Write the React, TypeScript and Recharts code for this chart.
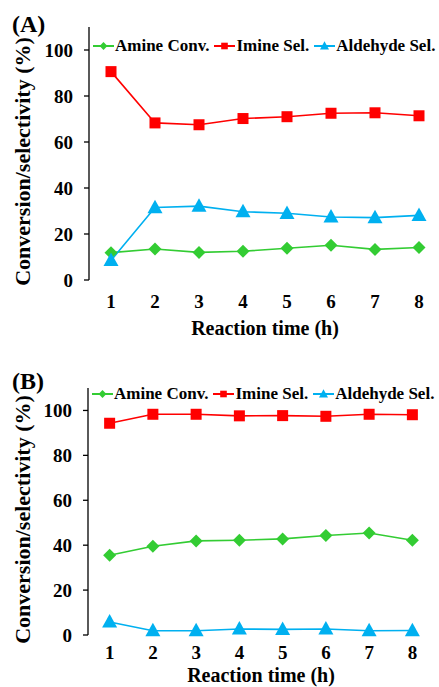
import React from "react";
import { LineChart, Line, XAxis, YAxis, Legend } from "recharts";

const FONT = '"Liberation Serif", "Times New Roman", serif';

const hours = [1, 2, 3, 4, 5, 6, 7, 8];
const yTicks = [0, 20, 40, 60, 80, 100];
const bandTicks = [0.5, 1.5, 2.5, 3.5, 4.5, 5.5, 6.5, 7.5, 8.5];

// panel (A)
const amineA = [11.9, 13.5, 12.0, 12.5, 13.8, 15.1, 13.3, 14.1];
const imineA = [90.6, 68.3, 67.5, 70.2, 71.0, 72.5, 72.7, 71.4];
const aldehydeA = [8.5, 31.5, 32.1, 29.7, 29.0, 27.4, 27.1, 28.1];

// panel (B)
const amineB = [35.5, 39.5, 41.9, 42.2, 42.8, 44.3, 45.4, 42.2];
const imineB = [94.3, 98.3, 98.3, 97.6, 97.7, 97.4, 98.3, 98.1];
const aldehydeB = [5.8, 1.9, 1.9, 2.7, 2.5, 2.7, 1.9, 2.0];

const COLORS = {
  amine: "#33CC33",
  imine: "#FF0000",
  aldehyde: "#00B0F0",
};

const LEGEND = [
  { key: "amine", label: "Amine Conv.", shape: "diamond" },
  { key: "imine", label: "Imine Sel.", shape: "square" },
  { key: "aldehyde", label: "Aldehyde Sel.", shape: "triangle" },
];

function Marker({ cx, cy, shape, fill, scale = 1 }: any) {
  if (cx == null || cy == null) return null;
  if (shape === "square") {
    const s = 5.5 * scale;
    return <rect x={cx - s} y={cy - s} width={s * 2} height={s * 2} fill={fill} />;
  }
  if (shape === "diamond") {
    const s = 6.5 * scale;
    return (
      <polygon
        points={`${cx},${cy - s} ${cx + s},${cy} ${cx},${cy + s} ${cx - s},${cy}`}
        fill={fill}
      />
    );
  }
  const w = 7.5 * scale;
  return (
    <polygon
      points={`${cx},${cy - w * 1.05} ${cx + w},${cy + w * 0.75} ${cx - w},${cy + w * 0.75}`}
      fill={fill}
    />
  );
}

function LegendBox() {
  return (
    <div
      style={{
        display: "flex",
        alignItems: "center",
        fontFamily: FONT,
        fontWeight: "bold",
        fontSize: 17,
        color: "#000",
        whiteSpace: "nowrap",
      }}
    >
      {LEGEND.map((l) => (
        <div key={l.key} style={{ display: "flex", alignItems: "center", marginRight: 5 }}>
          <svg width={21} height={14}>
            <line x1={0} y1={7} x2={21} y2={7} stroke={(COLORS as any)[l.key]} strokeWidth={2} />
            <Marker cx={10.5} cy={7} shape={l.shape} fill={(COLORS as any)[l.key]} scale={0.6} />
          </svg>
          <span style={{ marginLeft: 1 }}>{l.label}</span>
        </div>
      ))}
    </div>
  );
}

function YLabel({ viewBox }: any) {
  const x = viewBox.x + 30;
  const y = viewBox.y + viewBox.height / 2 + 8;
  return (
    <text
      x={x}
      y={y}
      transform={`rotate(-90, ${x}, ${y})`}
      textAnchor="middle"
      fontFamily={FONT}
      fontWeight="bold"
      fontSize={22}
      fill="#000"
    >
      Conversion/selectivity (%)
    </text>
  );
}

interface PanelProps {
  amine: number[];
  imine: number[];
  aldehyde: number[];
  top: number;
  width: number;
  height: number;
  marginTop: number;
  yWidth: number;
  xHeight: number;
  labelOffset: number;
  tickGap: number;
  xStroke: string;
  legendTop: number;
  legendLeft: number;
}

function Panel(p: PanelProps) {
  const data = hours.map((h, i) => ({
    x: h,
    amine: p.amine[i],
    imine: p.imine[i],
    aldehyde: p.aldehyde[i],
  }));
  const tickStyle = { fontFamily: FONT, fontWeight: "bold", fontSize: 19, fill: "#000" };

  return (
    <div style={{ position: "absolute", left: 0, top: p.top }}>
      <LineChart
        width={p.width}
        height={p.height}
        data={data}
        margin={{ top: p.marginTop, right: 2, left: 0, bottom: 0 }}
      >
        {/* tick marks sit between the hours, labels under them */}
        <XAxis
          dataKey="x"
          type="number"
          domain={[0.5, 8.5]}
          ticks={bandTicks}
          tickFormatter={() => ""}
          height={0}
          tickSize={5}
          stroke={p.xStroke}
          strokeWidth={1.3}
          allowDataOverflow
        />
        <XAxis
          xAxisId="labels"
          dataKey="x"
          type="number"
          domain={[0.5, 8.5]}
          ticks={hours}
          axisLine={false}
          tickLine={false}
          tickSize={0}
          tickMargin={p.tickGap}
          height={p.xHeight}
          tick={tickStyle}
          interval={0}
          label={{
            value: "Reaction time (h)",
            position: "insideBottom",
            offset: p.labelOffset,
            style: { fontFamily: FONT, fontWeight: "bold", fontSize: 20, fill: "#000" },
          }}
        />
        <YAxis
          type="number"
          domain={[0, 110]}
          ticks={yTicks}
          interval={0}
          width={p.yWidth}
          tickSize={5}
          tickMargin={11}
          tick={tickStyle}
          stroke="#000"
          strokeWidth={1.3}
          label={<YLabel />}
        />
        <Legend
          verticalAlign="middle"
          align="center"
          layout="horizontal"
          wrapperStyle={{ top: p.legendTop, left: p.legendLeft, width: "auto" }}
          content={() => <LegendBox />}
        />
        {LEGEND.map((l) => (
          <Line
            key={l.key}
            dataKey={l.key}
            stroke={(COLORS as any)[l.key]}
            strokeWidth={1.6}
            isAnimationActive={false}
            dot={(d: any) => (
              <Marker
                key={`${l.key}-${d.index}`}
                cx={d.cx}
                cy={d.cy}
                shape={l.shape}
                fill={(COLORS as any)[l.key]}
              />
            )}
            activeDot={false}
          />
        ))}
      </LineChart>
    </div>
  );
}

const titleStyle: React.CSSProperties = {
  position: "absolute",
  left: 12,
  fontFamily: FONT,
  fontWeight: "bold",
  fontSize: 24,
  lineHeight: "24px",
  color: "#000",
};

export default function App() {
  return (
    <div
      style={{
        position: "absolute",
        left: 0,
        top: 0,
        width: 439,
        height: 687,
        overflow: "hidden",
        background: "#fff",
      }}
    >
      <Panel
        amine={amineA}
        imine={imineA}
        aldehyde={aldehydeA}
        top={0}
        width={443}
        height={345}
        marginTop={27}
        yWidth={89}
        xHeight={65}
        labelOffset={10}
        tickGap={15}
        xStroke="#000"
        legendTop={36}
        legendLeft={93}
      />
      <Panel
        amine={amineB}
        imine={imineB}
        aldehyde={aldehydeB}
        top={345}
        width={436}
        height={342}
        marginTop={43}
        yWidth={88}
        xHeight={52}
        labelOffset={5}
        tickGap={11}
        xStroke="#808080"
        legendTop={39}
        legendLeft={92}
      />
      <div style={{ ...titleStyle, top: 12 }}>(A)</div>
      <div style={{ ...titleStyle, top: 369 }}>(B)</div>
    </div>
  );
}
